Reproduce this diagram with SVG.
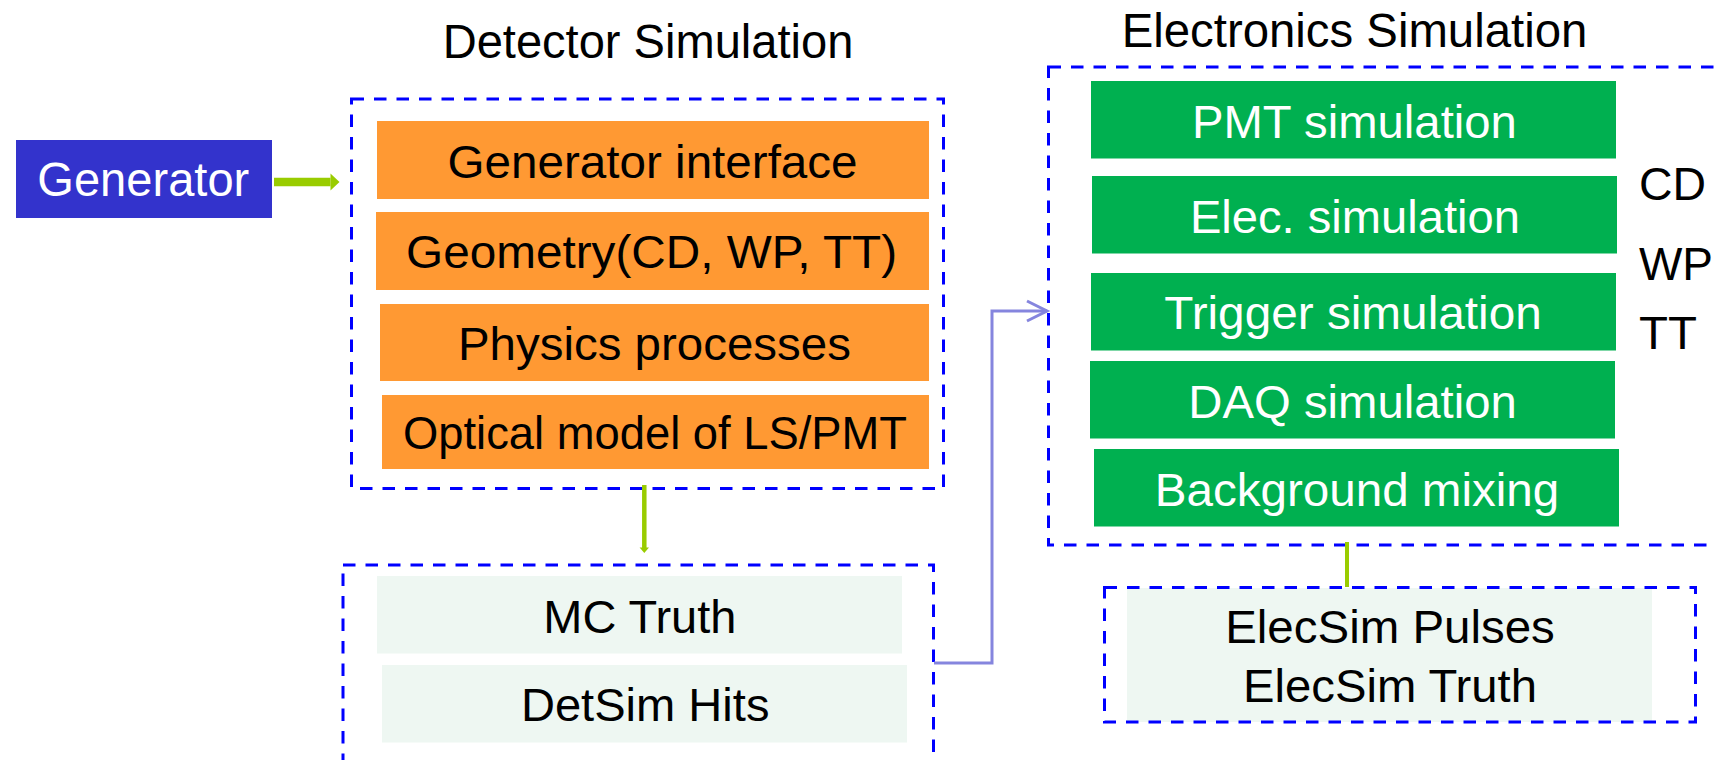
<svg xmlns="http://www.w3.org/2000/svg" width="1716" height="760" viewBox="0 0 1716 760">
  <style>
    text { font-family: "Liberation Sans", Arial, sans-serif; text-anchor: middle; }
    .title { font-size: 47.5px; fill: #000; }
    .lbl { font-size: 47px; fill: #000; }
    .lblw { font-size: 47px; fill: #fff; }
    .side { font-size: 47px; fill: #000; text-anchor: start; }
    .group { fill: none; stroke: #0000FF; stroke-width: 3; stroke-dasharray: 12.5 10; }
    .orange { fill: #FF9933; }
    .green { fill: #00B050; }
    .mint { fill: #EEF7F2; }
    .flow { fill: none; stroke: #99CC00; }
    .link { fill: none; stroke: #8585DE; stroke-width: 3; }
  </style>
  <defs>
    <marker id="headBig" markerUnits="userSpaceOnUse" markerWidth="12" markerHeight="20" viewBox="-1 -10 12 20" refX="0" refY="0" orient="auto" overflow="visible">
      <path d="M0,-8.5 L9,0 L0,8.5 Z" fill="#99CC00"/>
    </marker>
    <marker id="headSmall" markerUnits="userSpaceOnUse" markerWidth="8" markerHeight="12" viewBox="-1 -6 8 12" refX="0" refY="0" orient="auto" overflow="visible">
      <path d="M-1,-4.7 L4.5,0 L-1,4.7 Z" fill="#99CC00"/>
    </marker>
    <marker id="chevron" markerUnits="userSpaceOnUse" markerWidth="24" markerHeight="24" viewBox="-22 -12 24 24" refX="0" refY="0" orient="auto" overflow="visible">
      <path d="M-20,-10 L0,0 L-20,10" fill="none" stroke="#8585DE" stroke-width="3"/>
    </marker>
  </defs>

  <!-- section titles -->
  <text class="title" x="648" y="57.5" textLength="410.7" lengthAdjust="spacingAndGlyphs">Detector Simulation</text>
  <text class="title" x="1354.5" y="46.5" textLength="465.7" lengthAdjust="spacingAndGlyphs">Electronics Simulation</text>

  <!-- event generator -->
  <g id="generator">
    <rect x="16" y="140" width="256" height="78" fill="#3333CC"/>
    <text x="143.3" y="196" style="font-size:48px;fill:#fff" textLength="212" lengthAdjust="spacingAndGlyphs">Generator</text>
  </g>

  <!-- detector simulation stack -->
  <g id="detsim">
    <rect class="orange" x="377" y="121" width="552" height="78"/>
    <text class="lbl" x="652.6" y="178" textLength="410" lengthAdjust="spacingAndGlyphs">Generator interface</text>
    <rect class="orange" x="376" y="212" width="553" height="78"/>
    <text class="lbl" x="651.6" y="268" textLength="491" lengthAdjust="spacingAndGlyphs">Geometry(CD, WP, TT)</text>
    <rect class="orange" x="380" y="304" width="549" height="77"/>
    <text class="lbl" x="654.4" y="360" textLength="393" lengthAdjust="spacingAndGlyphs">Physics processes</text>
    <rect class="orange" x="382" y="395" width="547" height="74"/>
    <text class="lbl" x="655" y="449" textLength="504" lengthAdjust="spacingAndGlyphs">Optical model of LS/PMT</text>
    <rect class="group" x="351.5" y="99" width="592" height="389.5"/>
  </g>

  <!-- detector simulation output -->
  <g id="detsim-output">
    <rect class="mint" x="377" y="576" width="525" height="77.5"/>
    <text class="lbl" x="639.8" y="632.5" textLength="193" lengthAdjust="spacingAndGlyphs">MC Truth</text>
    <rect class="mint" x="382" y="665" width="525" height="77.5"/>
    <text class="lbl" x="645.2" y="720.5" textLength="248.5" lengthAdjust="spacingAndGlyphs">DetSim Hits</text>
    <rect class="group" x="343" y="565" width="590.5" height="230"/>
  </g>

  <!-- electronics simulation stack -->
  <g id="elecsim">
    <rect class="green" x="1091" y="81" width="525" height="77.5"/>
    <text class="lblw" x="1354.4" y="138" textLength="325" lengthAdjust="spacingAndGlyphs">PMT simulation</text>
    <rect class="green" x="1092" y="176" width="525" height="77.5"/>
    <text class="lblw" x="1354.9" y="232.5" textLength="330" lengthAdjust="spacingAndGlyphs">Elec. simulation</text>
    <rect class="green" x="1091" y="273" width="525" height="77.5"/>
    <text class="lblw" x="1353" y="329" textLength="377.5" lengthAdjust="spacingAndGlyphs">Trigger simulation</text>
    <rect class="green" x="1090" y="361" width="525" height="77.5"/>
    <text class="lblw" x="1352.6" y="418" textLength="328.5" lengthAdjust="spacingAndGlyphs">DAQ simulation</text>
    <rect class="green" x="1094" y="449" width="525" height="77.5"/>
    <text class="lblw" x="1357" y="505.5" textLength="404.6" lengthAdjust="spacingAndGlyphs">Background mixing</text>
    <rect class="group" x="1048.5" y="67" width="720" height="478"/>
  </g>

  <!-- sub-detectors -->
  <g id="subdetectors">
    <text class="side" x="1639" y="200" textLength="67" lengthAdjust="spacingAndGlyphs">CD</text>
    <text class="side" x="1639" y="280" textLength="74" lengthAdjust="spacingAndGlyphs">WP</text>
    <text class="side" x="1639" y="349" textLength="58" lengthAdjust="spacingAndGlyphs">TT</text>
  </g>

  <!-- electronics simulation output -->
  <g id="elecsim-output">
    <rect class="mint" x="1127" y="588" width="525" height="134"/>
    <text x="1390" y="643" style="font-size:47px" textLength="329.6" lengthAdjust="spacingAndGlyphs">ElecSim Pulses</text>
    <text x="1390" y="701.5" style="font-size:47px" textLength="294" lengthAdjust="spacingAndGlyphs">ElecSim Truth</text>
    <rect class="group" x="1104.5" y="587.5" width="591" height="134.5"/>
  </g>

  <!-- connectors -->
  <g id="connectors">
    <path class="flow" d="M274,182 H330.5" stroke-width="8.5" marker-end="url(#headBig)"/>
    <path class="flow" d="M644.3,485 V548.5" stroke-width="4.5" marker-end="url(#headSmall)"/>
    <path class="link" d="M934,663 H992 V311 H1047" marker-end="url(#chevron)"/>
    <path class="flow" d="M1347,542 V587" stroke-width="4"/>
  </g>
</svg>
